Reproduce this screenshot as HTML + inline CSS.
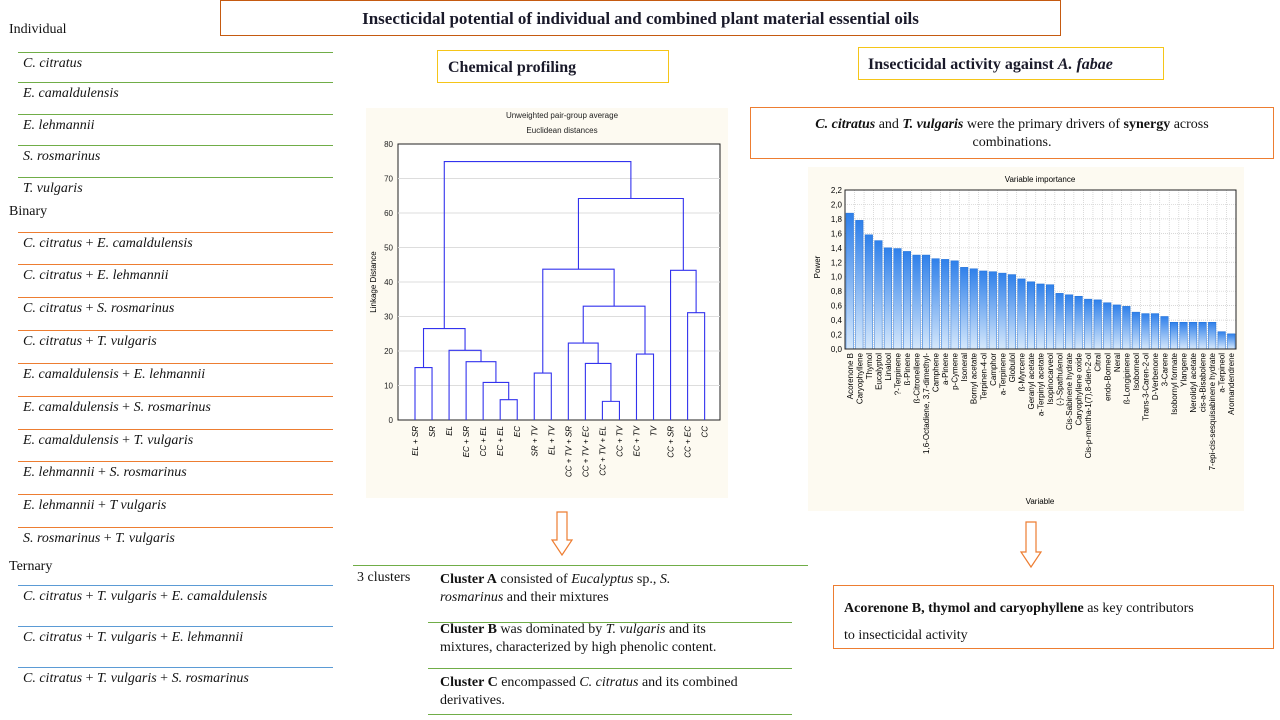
<!DOCTYPE html>
<html><head><meta charset="utf-8">
<style>
body{margin:0;width:1280px;height:720px;background:#fff;position:relative;overflow:hidden;font-family:"Liberation Serif",serif;color:#111}
.a{position:absolute;white-space:nowrap}
.t{font-size:14px}
.ln{position:absolute;height:1px}
.box{position:absolute;box-sizing:border-box}
</style></head><body>
<div class="box" style="left:220px;top:0;width:841px;height:36px;border:1px solid #c55a11;text-align:center;font-weight:bold;font-size:17px;line-height:36px;color:#1a1a2a">Insecticidal potential of individual and combined plant material essential oils</div>

<div id="list"></div>

<div class="box" style="left:437px;top:50px;width:232px;height:33px;border:1px solid #f5c518;font-weight:bold;font-size:16px;line-height:33px;padding-left:10px;color:#1a1a2a">Chemical profiling</div>
<div class="box" style="left:858px;top:47px;width:306px;height:33px;border:1px solid #f5c518;font-weight:bold;font-size:16px;line-height:33px;padding-left:9px;color:#1a1a2a">Insecticidal activity against <i>A. fabae</i></div>
<div class="box" style="left:750px;top:107px;width:524px;height:52px;border:1px solid #ed7d31;font-size:14px;text-align:center;padding-top:8px;line-height:18px"><b><i>C. citratus</i></b> and <b><i>T. vulgaris</i></b> were the primary drivers of <b>synergy</b> across<br>combinations.</div>
<div class="box" style="left:833px;top:585px;width:441px;height:64px;border:1px solid #ed7d31;font-size:14px;padding:9px 0 0 10px;line-height:27px"><b>Acorenone B, thymol and caryophyllene</b> as key contributors<br>to insecticidal activity</div>

<svg class="a" style="left:550px;top:511px" width="24" height="46"><path d="M7 1H17V29H22L12 44L2 29H7Z" fill="#fff" stroke="#ed7d31" stroke-width="1.2"/></svg>
<svg class="a" style="left:1019px;top:521px" width="24" height="48"><path d="M7 1H17V31H22L12 46L2 31H7Z" fill="#fff" stroke="#ed7d31" stroke-width="1.2"/></svg>

<div class="ln" style="left:353px;top:565px;width:455px;background:#70ad47"></div>
<div class="a t" style="left:357px;top:570px">3 clusters</div>
<div class="a t" style="left:440px;top:571px;line-height:18px"><b>Cluster A</b> consisted of <i>Eucalyptus</i> sp., <i>S.</i><br><i>rosmarinus</i> and their mixtures</div>
<div class="ln" style="left:428px;top:622px;width:364px;background:#70ad47"></div>
<div class="a t" style="left:440px;top:621px;line-height:18px"><b>Cluster B</b> was dominated by <i>T. vulgaris</i> and its<br>mixtures, characterized by high phenolic content.</div>
<div class="ln" style="left:428px;top:668px;width:364px;background:#70ad47"></div>
<div class="a t" style="left:440px;top:674px;line-height:18px"><b>Cluster C</b> encompassed <i>C. citratus</i> and its combined<br>derivatives.</div>
<div class="ln" style="left:428px;top:714px;width:364px;background:#70ad47"></div>

<svg id="dendro" class="a" style="left:366px;top:108px" width="362" height="390"></svg>
<svg id="bars" class="a" style="left:808px;top:167px" width="436" height="344"></svg>

<script>
// ----- left list -----
const groups=[["Individual",31,"#70ad47",[52,82,114,145,177],["<i>C. citratus</i>","<i>E. camaldulensis</i>","<i>E. lehmannii</i>","<i>S. rosmarinus</i>","<i>T. vulgaris</i>"]],
["Binary",213,"#ed7d31",[232,264,297,330,363,396,429,461,494,527],["<i>C. citratus</i> + <i>E. camaldulensis</i>","<i>C. citratus</i> + <i>E. lehmannii</i>","<i>C. citratus</i> + <i>S. rosmarinus</i>","<i>C. citratus</i> + <i>T. vulgaris</i>","<i>E. camaldulensis</i> + <i>E. lehmannii</i>","<i>E. camaldulensis</i> + <i>S. rosmarinus</i>","<i>E. camaldulensis</i> + <i>T. vulgaris</i>","<i>E. lehmannii</i> + <i>S. rosmarinus</i>","<i>E. lehmannii</i> + <i>T vulgaris</i>","<i>S. rosmarinus</i> + <i>T. vulgaris</i>"]],
["Ternary",568,"#5b9bd5",[585,626,667],["<i>C. citratus</i> + <i>T. vulgaris</i> + <i>E. camaldulensis</i>","<i>C. citratus</i> + <i>T. vulgaris</i> + <i>E. lehmannii</i>","<i>C. citratus</i> + <i>T. vulgaris</i> + <i>S. rosmarinus</i>"]]];
const list=document.getElementById('list');
groups.forEach(g=>{
 const h=document.createElement('div');h.className='a t';h.style.left='9px';h.style.top=(g[1]-9)+'px';h.innerHTML=g[0];
 
 
 list.appendChild(h);
 g[3].forEach((y,i)=>{
  const l=document.createElement('div');l.className='ln';l.style.cssText=`left:18px;top:${y}px;width:315px;background:${g[2]}`;list.appendChild(l);
  const t=document.createElement('div');t.className='a t';t.style.left='23px';t.style.top=(y+4)+'px';t.innerHTML=g[4][i];
  
  
  list.appendChild(t);
 });
});
</script>
<script>
// ----- dendrogram -----
const leaves=["EL + SR","SR","EL","EC + SR","CC + EL","EC + EL","EC","SR + TV","EL + TV","CC + TV + SR","CC + TV + EC","CC + TV + EL","CC + TV","EC + TV","TV","CC + SR","CC + EC","CC"];
// merges: [left, right, height]; ids >=18 refer to earlier merges (merge k has id 18+k)
const mergeLeft=[0,5,4,3,2,18,7,11,10,9,13,27,24,16,15,30,23];
const mergeRight=[1,6,19,20,21,22,8,12,25,26,14,28,29,17,31,32,33];
const mergeHeight=[15.2,5.9,10.9,16.9,20.2,26.5,13.6,5.4,16.4,22.3,19.1,33,43.7,31.1,43.4,64.2,74.9];
const dTicks=[0,10,20,30,40,50,60,70,80];
(function(){
 const s=document.getElementById('dendro'),NS='http://www.w3.org/2000/svg';
 function el(n,a,txt){const e=document.createElementNS(NS,n);for(const k in a)e.setAttribute(k,a[k]);if(txt!=null)e.textContent=txt;s.appendChild(e);return e;}
 const X0=32,X1=354,Y0=36,Y1=312;
 const yS=v=>Y1-(v/80)*(Y1-Y0);
 const step=(X1-X0)/18.9;
 const xS=i=>X0+17+i*step;
 el('rect',{x:0,y:0,width:362,height:390,fill:'#fdfaf1'});
 el('rect',{x:X0,y:Y0,width:X1-X0,height:Y1-Y0,fill:'#fff',stroke:'#222','stroke-width':1});
 el('text',{x:196,y:10,'font-size':8,'text-anchor':'middle','font-family':'Liberation Sans',fill:'#222'},'Unweighted pair-group average');
 el('text',{x:196,y:25,'font-size':8,'text-anchor':'middle','font-family':'Liberation Sans',fill:'#222'},'Euclidean distances');
 dTicks.forEach(v=>{const y=yS(v);
  if(v>0&&v<80){el('line',{x1:X0,x2:X1,y1:y,y2:y,stroke:'#ddd','stroke-width':1});}
  el('text',{x:X0-5,y:y+3,'font-size':8,'text-anchor':'end','font-family':'Liberation Sans',fill:'#222'},v);
 });
 const yl=el('text',{x:10,y:(Y0+Y1)/2,'font-size':8,'text-anchor':'middle','font-family':'Liberation Sans',transform:`rotate(-90 10 ${(Y0+Y1)/2})`},'Linkage Distance');
 
 const pos=[],ht=[];
 leaves.forEach((n,i)=>{pos[i]=xS(i);ht[i]=0;
  const t=el('text',{x:0,y:0,'font-size':8,'font-style':'italic','text-anchor':'end','font-family':'Liberation Sans',transform:`translate(${xS(i)+3},${Y1+6}) rotate(-90)`},n);
  
 });
 mergeHeight.forEach((h,k)=>{const a=mergeLeft[k],b=mergeRight[k],id=18+k;
  const xa=pos[a],xb=pos[b],y=yS(h);
  const p=el('path',{d:`M${xa} ${yS(ht[a])}V${y}H${xb}V${yS(ht[b])}`,fill:'none',stroke:'#3333ee','stroke-width':1.1});
  
  pos[id]=(xa+xb)/2;ht[id]=h;
 });
})();
</script>
<script>
// ----- variable importance bars -----
const vars=["Acorenone B","Caryophyllene","Thymol","Eucalyptol","Linalool","?-Terpinene","ß-Pinene","ß-Citronellene","1,6-Octadiene, 3,7-dimethyl-","Camphene","a-Pinene","p-Cymene","Isoneral","Bornyl acetate","Terpinen-4-ol","Camphor","a-Terpinene","Globulol","ß-Myrcene","Geranyl acetate","a-Terpinyl acetate","Isopinocarveol","(-)-Spathulenol","Cis-Sabinene hydrate","Caryophyllene oxide","Cis-p-mentha-1(7),8-dien-2-ol","Citral","endo-Borneol","Neral","ß-Longipinene","Isoborneol","Trans-3-Caren-2-ol","D-Verbenone","3-Carene","Isobornyl formate","Ylangene","Nerolidyl acetate","cis-a-Bisabolene","7-epi-cis-sesquisabinene hydrate","a-Terpineol","Aromandendrene"];
const power=[1.88,1.78,1.58,1.50,1.40,1.39,1.35,1.30,1.30,1.25,1.24,1.22,1.13,1.11,1.08,1.07,1.05,1.03,0.97,0.93,0.90,0.89,0.77,0.75,0.73,0.69,0.68,0.64,0.61,0.59,0.51,0.49,0.49,0.45,0.37,0.37,0.37,0.37,0.37,0.24,0.21];
const pTicks=["0,0","0,2","0,4","0,6","0,8","1,0","1,2","1,4","1,6","1,8","2,0","2,2"];
(function(){
 const s=document.getElementById('bars'),NS='http://www.w3.org/2000/svg';
 function el(n,a,txt){const e=document.createElementNS(NS,n);for(const k in a)e.setAttribute(k,a[k]);if(txt!=null)e.textContent=txt;s.appendChild(e);return e;}
 const X0=37,X1=428,Y0=23,Y1=182;
 const yS=v=>Y1-(v/2.2)*(Y1-Y0);
 const bw=(X1-X0)/vars.length;
 const defs=el('defs',{});
 const lg=document.createElementNS(NS,'linearGradient');lg.setAttribute('id','bg');lg.setAttribute('x1','0');lg.setAttribute('y1','0');lg.setAttribute('x2','0');lg.setAttribute('y2','1');
 lg.innerHTML='<stop offset="0" stop-color="#2f80ea"/><stop offset="1" stop-color="#d6e8fb"/>';defs.appendChild(lg);
 el('rect',{x:0,y:0,width:436,height:344,fill:'#fdfaf1'});
 el('rect',{x:X0,y:Y0,width:X1-X0,height:Y1-Y0,fill:'#fff'});
 el('text',{x:232,y:15,'font-size':8,'text-anchor':'middle','font-family':'Liberation Sans'},'Variable importance');
 pTicks.forEach((t,i)=>{const y=yS(i*0.2);
  el('line',{x1:X0,x2:X1,y1:y,y2:y,stroke:'#ccc','stroke-width':0.7,'stroke-dasharray':'1,1'});
  el('text',{x:X0-3,y:y+3,'font-size':8,'text-anchor':'end','font-family':'Liberation Sans'},t);
 });
 vars.forEach((n,i)=>{const x=X0+i*bw;
  el('line',{x1:x+bw,x2:x+bw,y1:Y0,y2:Y1,stroke:'#ccc','stroke-width':0.7,'stroke-dasharray':'1,1'});
  const r=el('rect',{x:x+1,y:yS(power[i]),width:bw-2,height:Y1-yS(power[i]),fill:'url(#bg)',stroke:'#1f6fd6','stroke-width':0.5});
  
  const t=el('text',{x:0,y:0,'font-size':8,'text-anchor':'end','font-family':'Liberation Sans',transform:`translate(${x+bw/2+3},${Y1+4}) rotate(-90)`},n);
  
 });
 el('rect',{x:X0,y:Y0,width:X1-X0,height:Y1-Y0,fill:'none',stroke:'#222','stroke-width':1});
 const xt=el('text',{x:232,y:337,'font-size':8,'text-anchor':'middle','font-family':'Liberation Sans'},'Variable');
 
 const yt=el('text',{x:12,y:100,'font-size':8,'text-anchor':'middle','font-family':'Liberation Sans',transform:'rotate(-90 12 100)'},'Power');
 
})();
</script>
</body></html>
